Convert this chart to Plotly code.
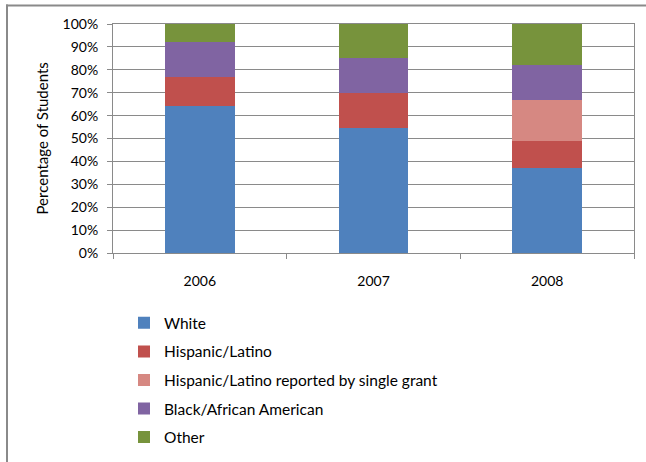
import plotly.graph_objects as go

years = ["2006", "2007", "2008"]
series_names = ["White", "Hispanic/Latino", "Hispanic/Latino reported by single grant",
                "Black/African American", "Other"]
white = [64, 54.5, 37]
hispanic = [13, 15.5, 12]
hispanic_single = [0, 0, 18]
black = [15, 15, 15]
other = [8, 15, 18]
colors = ["#4F81BD", "#C0504D", "#D68882", "#8064A2", "#77933C"]

y_ticks = list(range(0, 101, 10))

FONT = "Lato"
GRID = "#8a8a8a"

fig = go.Figure()
for i, (name, vals) in enumerate(zip(series_names, [white, hispanic, hispanic_single, black, other])):
    fig.add_trace(go.Bar(
        x=years, y=vals, name=name, marker=dict(color=colors[i], line=dict(width=0)),
        width=0.4, legendgroup=str(i)))

L, R, T, B = 113, 12, 23.5, 208.5
W, H = 646, 462
pw, ph = W - L - R, H - T - B

def px_x(p):
    return (p - L) / pw

def px_y(p):
    return (H - B - p) / ph

fig.update_layout(
    width=W, height=H,
    margin=dict(l=L, r=R, t=T, b=B, pad=0, autoexpand=False),
    barmode="stack",
    bargap=0.6,
    plot_bgcolor="white", paper_bgcolor="white",
    font=dict(family=FONT, size=14, color="#000000"),
    showlegend=True,
    legend=dict(
        x=px_x(124), xanchor="left", y=px_y(307), yanchor="top",
        traceorder="grouped", tracegroupgap=5.4,
        font=dict(family=FONT, size=15.5, color="#000000"),
        bgcolor="rgba(0,0,0,0)"),
    xaxis=dict(
        type="category", showline=True, linecolor=GRID, linewidth=1, mirror=True,
        ticks="outside", tickson="boundaries", ticklen=5, tickcolor=GRID,
        ticklabelstandoff=15, showgrid=False,
        tickfont=dict(family=FONT, size=14, color="#000000")),
    yaxis=dict(
        range=[0, 100], tickvals=y_ticks, ticktext=[f"{v}%" for v in y_ticks],
        showline=True, linecolor=GRID, linewidth=1, mirror=True,
        ticks="outside", ticklen=5, tickcolor=GRID,
        showgrid=True, gridcolor=GRID, gridwidth=1, zeroline=False,
        ticklabelstandoff=6,
        tickfont=dict(family=FONT, size=14, color="#000000")),
    annotations=[dict(
        text="Percentage of Students", textangle=-90,
        xref="paper", yref="paper", x=px_x(41), y=0.5,
        xanchor="center", yanchor="middle", showarrow=False,
        font=dict(family=FONT, size=15, color="#000000"))],
    shapes=[
        dict(type="line", xref="paper", yref="paper",
             x0=px_x(7), x1=px_x(7), y0=px_y(470), y1=px_y(4),
             line=dict(color="#8a8a8a", width=2)),
        dict(type="line", xref="paper", yref="paper",
             x0=px_x(6), x1=px_x(655), y0=px_y(5), y1=px_y(5),
             line=dict(color="#8a8a8a", width=2)),
    ],
)

fig.write_html("out.html", config={"displayModeBar": False},
               post_script="document.body.style.margin='0';document.body.style.overflow='hidden';")
